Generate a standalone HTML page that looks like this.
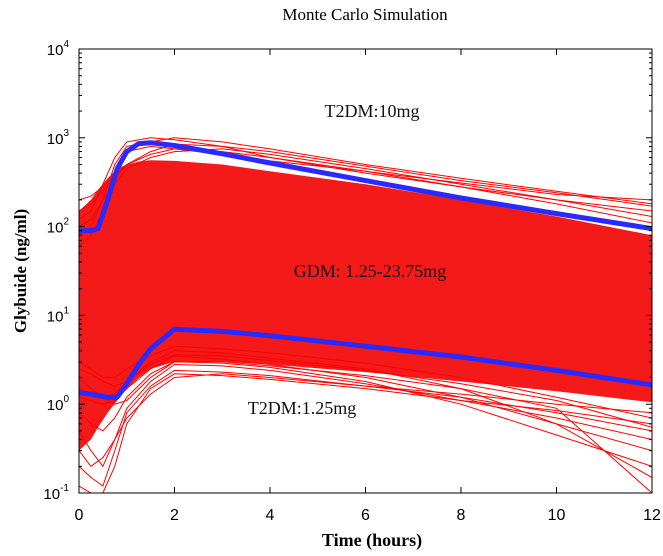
<!DOCTYPE html>
<html><head><meta charset="utf-8"><style>
body{margin:0;background:#fff;width:663px;height:556px;overflow:hidden}
svg{display:block}
</style></head><body>
<svg id="c" width="663" height="556" xmlns="http://www.w3.org/2000/svg">
<text x="365" y="20" text-anchor="middle" font-family="Liberation Serif, serif" font-size="17">Monte Carlo Simulation</text>
<g id="plot"></g>
<text x="372" y="546" text-anchor="middle" font-family="Liberation Serif, serif" font-weight="bold" font-size="18">Time (hours)</text>
<text transform="translate(26,271) rotate(-90)" text-anchor="middle" font-family="Liberation Serif, serif" font-weight="bold" font-size="17">Glybuide (ng/ml)</text>
</svg>
<script>
const times=[0,0.25,0.4,0.6,0.8,1,1.25,1.5,2,3,4,6,8,10,12];
const outTimes=[0,0.25,0.5,0.75,1,1.5,2,3,4,6,8,10,12];
const xTicks=[0,2,4,6,8,10,12];
const yDecades=[-1,0,1,2,3,4];
const bandUpper=[150,200,260,350,450,500,540,560,550,500,420,300,200,130,80];
const bandLower=[0.3,0.4,0.55,0.8,1.1,1.5,2.0,2.5,3,3,2.8,2.3,1.8,1.4,1.05];
const blueHigh=[90,90,95,200,450,700,860,880,820,660,520,330,210,140,95];
const blueLow=[1.35,1.3,1.25,1.2,1.2,1.7,2.8,4.2,7.0,6.6,5.9,4.5,3.4,2.4,1.65];
const redOutliers=[
[120,150,300,600,900,1000,950,800,600,400,280,200,150],
[80,100,200,500,800,900,1000,900,750,500,350,250,180],
[150,180,250,350,500,700,850,800,700,480,330,240,170],
[60,80,150,400,700,800,750,650,550,420,310,230,200],
[100,120,200,300,450,600,700,750,650,450,300,200,130],
[200,220,280,380,500,650,750,700,600,420,280,180,110],
[1.2,1.1,1.0,1.1,1.5,2.5,3.5,3.2,2.8,2.0,1.2,0.6,0.3],
[0.8,0.6,0.5,0.7,1.2,2.2,3.0,2.9,2.6,1.8,1.0,0.45,0.2],
[1.5,1.3,1.2,1.3,1.8,3.0,4.0,3.8,3.3,2.5,1.5,0.6,0.15],
[0.5,0.3,0.2,0.4,0.9,1.8,2.8,2.7,2.4,1.7,1.1,0.7,0.4],
[0.2,0.15,0.12,0.3,0.8,1.6,2.4,2.3,2.1,1.6,1.2,0.8,0.5],
[0.12,0.1,0.1,0.2,0.6,1.5,2.2,2.1,1.9,1.5,1.1,0.85,0.6],
[2.0,1.5,1.2,1.0,1.1,2.0,3.0,3.0,2.7,2.1,1.5,0.9,0.1],
[3,2.5,2,2,2.5,3.5,4.5,4.2,3.8,2.9,2.0,1.2,0.7],
[0.3,0.2,0.25,0.4,0.7,1.3,2.0,2.2,2.0,1.6,1.3,1.0,0.8],
[2.5,2.2,1.8,1.6,1.8,2.8,3.6,3.5,3.1,2.4,1.7,1.1,0.55]
];
const L=79,R=652,T=49,B=493;
function xs(t){return L+(t-0)/(12-0)*(R-L);}
function ys(v){return B-(Math.log10(v)+1)/5*(B-T);}
const NS="http://www.w3.org/2000/svg";
const plot=document.getElementById('plot');
function mk(tag,attrs){const e=document.createElementNS(NS,tag);for(const k in attrs)e.setAttribute(k,attrs[k]);plot.appendChild(e);return e;}
function pts(arr,tt){tt=tt||times;return arr.map((v,i)=>xs(tt[i]).toFixed(1)+','+ys(v).toFixed(1)).join(' ');}
const clip=mk('clipPath',{id:'clp'});
const cr=document.createElementNS(NS,'rect');cr.setAttribute('x',L);cr.setAttribute('y',T);cr.setAttribute('width',R-L);cr.setAttribute('height',B-T);clip.appendChild(cr);
const g=mk('g',{'clip-path':'url(#clp)'});
function add(tag,attrs){const e=document.createElementNS(NS,tag);for(const k in attrs)e.setAttribute(k,attrs[k]);g.appendChild(e);return e;}
const band=add('polygon',{points:pts(bandUpper)+' '+bandLower.map((v,i)=>i).reverse().map(i=>xs(times[i]).toFixed(1)+','+ys(bandLower[i]).toFixed(1)).join(' '),fill:'#f41a1a'});


redOutliers.forEach(c=>{
 const p=add('polyline',{points:pts(c,outTimes),fill:'none',stroke:'#f00','stroke-width':'1'});
 
 
});
[[blueHigh,'t2dm-10mg-curve'],[blueLow,'t2dm-1-25mg-curve']].forEach(([c,n])=>{
 const p=add('polyline',{points:pts(c),fill:'none',stroke:'#2a2aff','stroke-width':'5','stroke-linejoin':'round'});
 
 
});
const fr=mk('rect',{x:L,y:T,width:R-L,height:B-T,fill:'none',stroke:'#000','stroke-width':'1'});


xTicks.forEach(t=>{
 const x=xs(t);
 mk('line',{x1:x,x2:x,y1:B,y2:B-6,stroke:'#000'});
 mk('line',{x1:x,x2:x,y1:T,y2:T+6,stroke:'#000'});
 const tx=mk('text',{x:x,y:B+27,'text-anchor':'middle','font-family':'Liberation Sans, sans-serif','font-size':'16'});
 tx.textContent=t;
 
 
});
yDecades.forEach(d=>{
 const y=ys(Math.pow(10,d));
 mk('line',{x1:L,x2:L+6,y1:y,y2:y,stroke:'#000'});
 mk('line',{x1:R,x2:R-6,y1:y,y2:y,stroke:'#000'});
 if(d<4){for(let m=2;m<10;m++){const yy=ys(m*Math.pow(10,d));mk('line',{x1:L,x2:L+3,y1:yy,y2:yy,stroke:'#000'});mk('line',{x1:R,x2:R-3,y1:yy,y2:yy,stroke:'#000'});}}
 const tx=mk('text',{x:L-10,y:y+6,'text-anchor':'end','font-family':'Liberation Sans, sans-serif','font-size':'15'});
 tx.textContent='10';
 const s=document.createElementNS(NS,'tspan');s.setAttribute('dy','-8');s.setAttribute('font-size','10');s.textContent=d;tx.appendChild(s);
 
 
});
function ann(x,y,txt,n){const t=mk('text',{x:x,y:y,'text-anchor':'middle','font-family':'Liberation Serif, serif','font-size':'18','fill':'#111'});t.textContent=txt;}
ann(372,117,'T2DM:10mg','label-t2dm-10mg');
ann(370,277,'GDM: 1.25-23.75mg','label-gdm-range');
ann(302,414,'T2DM:1.25mg','label-t2dm-1-25mg');
</script>
</body></html>
